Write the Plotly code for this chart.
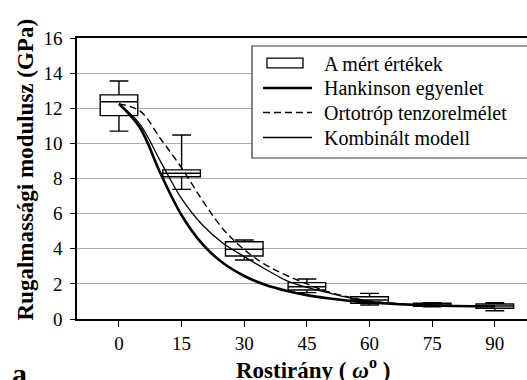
import plotly.graph_objects as go

# ---- data ----
box_angles = [0, 15, 30, 45, 60, 75, 90]
box_q1 = [11.58, 8.10, 3.59, 1.65, 0.89, 0.72, 0.61]
box_median = [12.37, 8.30, 3.97, 1.84, 1.08, 0.80, 0.74]
box_q3 = [12.76, 8.49, 4.40, 2.07, 1.27, 0.90, 0.85]
box_low = [10.70, 7.38, 3.36, 1.50, 0.80, 0.70, 0.47]
box_high = [13.55, 10.48, 4.50, 2.28, 1.46, 0.93, 0.93]

curve_angles = [0, 5, 10, 15, 20, 25, 30, 35, 40, 45, 50, 55, 60, 65, 70, 75, 80, 85, 90]
hankinson = [12.25, 10.90, 8.26, 5.91, 4.26, 3.17, 2.45, 1.95, 1.61, 1.36, 1.18, 1.04,
             0.94, 0.87, 0.81, 0.77, 0.74, 0.725, 0.72]
ortotrop = [12.25, 11.85, 10.25, 8.60, 6.75, 5.10, 3.95, 3.10, 2.50, 2.00, 1.55, 1.25,
            1.02, 0.90, 0.82, 0.78, 0.75, 0.73, 0.72]
kombinalt = [12.25, 11.10, 8.95, 6.85, 5.35, 4.30, 3.55, 2.85, 2.20, 1.80, 1.50, 1.22,
             1.00, 0.90, 0.83, 0.78, 0.75, 0.73, 0.72]

x_ticks = [0, 15, 30, 45, 60, 75, 90]
legend_labels = ["A mért értékek", "Hankinson egyenlet", "Ortotróp tenzorelmélet", "Kombinált modell"]
y_title = "Rugalmassági modulusz (GPa)"
x_title = "Rostirány ( <i>ω</i><sup>o</sup> )"

# ---- layout geometry (pixels) ----
W, H = 527, 380
ML, MR, MT, MB = 77, 0, 38, 61
PW, PH = W - ML - MR, H - MT - MB
FONT = "Liberation Serif"


def px(xp):
    return (xp - ML) / PW


def py(yp):
    return (H - MB - yp) / PH


fig = go.Figure()

fig.add_trace(go.Box(
    x=box_angles, q1=box_q1, median=box_median, q3=box_q3,
    lowerfence=box_low, upperfence=box_high,
    width=9, whiskerwidth=0.5, boxpoints=False,
    fillcolor="white", line=dict(color="black", width=1.4),
    name=legend_labels[0], showlegend=False, hoverinfo="skip",
))

fig.add_trace(go.Scatter(
    x=curve_angles, y=hankinson, mode="lines", name=legend_labels[1],
    line=dict(color="black", width=2.6, shape="spline", smoothing=1.0), showlegend=False,
))
fig.add_trace(go.Scatter(
    x=curve_angles, y=ortotrop, mode="lines", name=legend_labels[2],
    line=dict(color="black", width=1.4, dash="7px,4px", shape="spline", smoothing=1.0), showlegend=False,
))
fig.add_trace(go.Scatter(
    x=curve_angles, y=kombinalt, mode="lines", name=legend_labels[3],
    line=dict(color="black", width=1.3, shape="spline", smoothing=1.0), showlegend=False,
))

shapes = []
annotations = []

# legend frame
shapes.append(dict(type="rect", xref="paper", yref="paper",
                   x0=px(252), x1=px(545), y0=py(158), y1=py(46),
                   line=dict(color="#333333", width=1.2), fillcolor="white", layer="above"))
rows = [63, 88, 112.5, 137.5]
# box symbol
shapes.append(dict(type="rect", xref="paper", yref="paper",
                   x0=px(267), x1=px(303), y0=py(rows[0] + 4.8), y1=py(rows[0] - 4.8),
                   line=dict(color="black", width=1.3), fillcolor="white", layer="above"))
# line symbols
line_styles = [dict(width=2.4), dict(width=1.4, dash="7px,4px"), dict(width=1.3)]
for r, st in zip(rows[1:], line_styles):
    shapes.append(dict(type="line", xref="paper", yref="paper",
                       x0=px(263), x1=px(312), y0=py(r), y1=py(r),
                       line=dict(color="black", **st), layer="above"))
for r, lab in zip(rows, legend_labels):
    annotations.append(dict(text=lab, xref="paper", yref="paper", x=px(322), y=py(r + 0.5),
                            xanchor="left", yanchor="middle", showarrow=False,
                            font=dict(family=FONT, size=20, color="black")))

# axis titles
annotations.append(dict(text="<b>" + y_title + "</b>", xref="paper", yref="paper",
                        x=px(25), y=py(169.5), textangle=-90, showarrow=False,
                        xanchor="center", yanchor="middle",
                        font=dict(family=FONT, size=23, color="black")))
annotations.append(dict(text="<b>" + x_title + "</b>", xref="paper", yref="paper",
                        x=px(313), y=py(368), showarrow=False,
                        xanchor="center", yanchor="middle",
                        font=dict(family=FONT, size=23, color="black")))
annotations.append(dict(text="<b>a</b>", xref="paper", yref="paper",
                        x=px(20), y=py(373), showarrow=False,
                        xanchor="center", yanchor="middle",
                        font=dict(family=FONT, size=30, color="black")))

fig.update_layout(
    width=W, height=H,
    margin=dict(l=ML, r=MR, t=MT, b=MB, pad=0),
    paper_bgcolor="white", plot_bgcolor="white",
    font=dict(family=FONT, size=19, color="black"),
    boxmode="overlay",
    shapes=shapes, annotations=annotations,
    showlegend=False,
    xaxis=dict(range=[-10.05, 97.7], tickmode="array", tickvals=x_ticks,
               ticktext=[str(v) for v in x_ticks],
               showgrid=False, zeroline=False, showline=True, linecolor="black", linewidth=1.6,
               mirror=True, ticks="outside", ticklen=6, tickwidth=1.3, tickcolor="black",
               ticklabelstandoff=0, tickfont=dict(family=FONT, size=19, color="black")),
    yaxis=dict(range=[0, 16], dtick=2, tick0=0,
               showgrid=True, gridcolor="#ababab", gridwidth=1.2, zeroline=False,
               showline=True, linecolor="black", linewidth=1.6,
               ticks="outside", ticklen=5, tickwidth=1.3, tickcolor="black",
               ticklabelstandoff=4, tickfont=dict(family=FONT, size=19, color="black")),
)

fig.write_html("out.html")
